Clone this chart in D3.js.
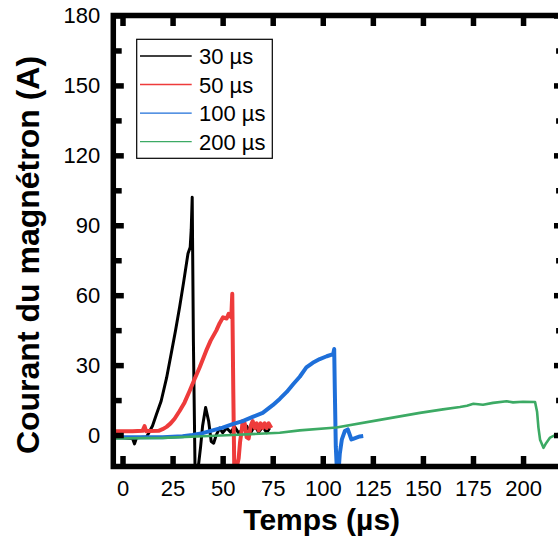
<!DOCTYPE html>
<html>
<head>
<meta charset="utf-8">
<script src="https://cdn.jsdelivr.net/npm/d3@7"></script>
<style>
html,body{margin:0;padding:0;background:#fff;overflow:hidden;}
svg{display:block;font-family:"Liberation Sans",Arial,sans-serif;}
</style>
</head>
<body>
<svg id="chart" width="558" height="538"></svg>
<script>
// ---- data ----
const seriesNames = ["30 µs", "50 µs", "100 µs", "200 µs"];
const seriesColors = ["#000000", "#EE3B3B", "#1E6FD9", "#3CAA64"];

const t30 = [-4.6, 0, 5, 6, 7, 12, 13.5, 15, 17, 19.3, 22, 24.3, 26.5, 28.5, 30.5, 32.7, 33.8, 34.3, 34.8, 35.4, 36.2, 37, 38, 39, 40, 41.5, 43, 44.3, 45.5, 46.8, 48.5, 50, 52, 54, 56, 58, 60, 62, 64, 66, 68, 70, 72, 73.5];
const v30 = [-1.2, -1.2, -1.5, -3.8, -1.2, -0.8, 1.5, 4, 9, 14.6, 24.5, 34.9, 45, 54.8, 65.5, 77.9, 80.6, 88, 102, 40, -13.5, -13.5, -12.5, -5, 4, 11.8, 6, -2.8, -3.5, 0, 3, 1, 3, 1.2, 3.5, 0.8, 2.6, 3.8, 1, 4, 1.2, 3.6, 1, 3];

const t50 = [-4.6, 5, 10, 11, 11.8, 13, 18, 20, 22, 24, 26, 28.5, 31, 33.5, 36, 38.5, 41.8, 44, 46.8, 48.5, 50.2, 52, 53, 54.3, 54.8, 55.3, 55.8, 57, 58, 58.7, 59.5, 60, 61, 62, 63, 64, 65, 66, 67, 68, 69, 70, 71, 72, 73, 74.3];
const v50 = [1.6, 1.6, 1.8, 3.8, 1.6, 1.7, 1.8, 2.5, 3.5, 5, 7, 10.3, 14, 18.9, 24, 29, 36.2, 40.5, 44.8, 48, 50.5, 50, 52, 50.5, 60.6, 20, -14, -14, -10, -3, 2, 6, 5, -1, -1.5, 4, 6, 3, 5, 2, 5, 3, 5, 3, 5, 3];

const t100 = [-4.6, 10, 20, 30, 35, 40, 45, 50, 55, 60, 65, 70, 75, 78.5, 82, 85.2, 88.5, 91.8, 95, 98.5, 102, 105.2, 105.7, 106, 106.5, 107, 108, 108.5, 109.5, 111, 112.5, 114.3, 115.5, 116.8, 118.5, 120.2];
const v100 = [-1, -1, -1, -0.5, 0, 0.8, 2, 3.2, 4.7, 6, 7.8, 9.5, 12.8, 15.5, 18.5, 21.8, 25, 29, 31, 32.6, 33.8, 34.7, 36.9, 20, -5, -14, -14, -8, -2, 1.7, 2.4, -1.9, -1.5, -1.1, -0.6, -0.4];

const t200 = [-4.6, 20, 40, 55, 78.5, 88.5, 106.8, 128.5, 148.5, 160, 168.5, 172, 175.2, 180, 185, 191.8, 195, 200, 206, 207, 207.7, 208.5, 210.2, 211.5, 213.5, 216, 217.5, 220.7];
const v200 = [-1.5, -1.2, -0.5, 0, 1, 2, 3.2, 6.5, 9.5, 11, 12, 12.6, 13.4, 13, 13.8, 14.5, 14, 14.3, 14.2, 10, 3.1, -2, -5.5, -3.5, -1.1, 0, 0.4, 0.3];

const xTicks = [0, 25, 50, 75, 100, 125, 150, 175, 200];
const yTicks = [0, 30, 60, 90, 120, 150, 180];
const yMinorTicks = [15, 45, 75, 105, 135, 165];

const xTitle = "Temps (µs)";
const yTitle = "Courant du magnétron (A)";

// ---- drawing ----
const svg = d3.select("#chart");
const pL = 113.3, pR = 564.5, pT = 15.5, pB = 466.5;
const x = d3.scaleLinear().domain([-4.6, 220.7]).range([pL, pR]);
const y = d3.scaleLinear().domain([-13.5, 180]).range([pB, pT]);

const series = [
  {t: t30, v: v30, w: 3},
  {t: t50, v: v50, w: 4},
  {t: t100, v: v100, w: 4},
  {t: t200, v: v200, w: 2.6}
];

svg.append("defs").append("clipPath").attr("id", "clip")
  .append("rect").attr("x", pL).attr("y", pT).attr("width", pR - pL).attr("height", pB - pT);

const line = d3.line().x(d => x(d[0])).y(d => y(d[1]));
const plot = svg.append("g").attr("clip-path", "url(#clip)");
series.forEach((s, i) => {
  const pts = s.t.map((tt, k) => [tt, s.v[k]]);
  plot.append("path").datum(pts)
    .attr("d", line)
    .attr("fill", "none")
    .attr("stroke", seriesColors[i])
    .attr("stroke-width", s.w)
    .attr("stroke-linejoin", "round");
});

// axes (frame)
const sw = 5.5;
const tickW = 5.5;
const majLen = 10.5, minLen = 8.4;

const axB = svg.append("g").attr("transform", `translate(0,${pB})`)
  .call(d3.axisBottom(x).tickValues(xTicks).tickSize(-majLen).tickSizeOuter(0).tickPadding(14).tickFormat(d3.format("d")));
const axT = svg.append("g").attr("transform", `translate(0,${pT})`)
  .call(d3.axisTop(x).tickValues(xTicks).tickSize(-majLen).tickSizeOuter(0).tickFormat(""));
const axL = svg.append("g").attr("transform", `translate(${pL},0)`)
  .call(d3.axisLeft(y).tickValues(yTicks).tickSize(-majLen).tickSizeOuter(0).tickPadding(13).tickFormat(d3.format("d")));
const axLm = svg.append("g").attr("transform", `translate(${pL},0)`)
  .call(d3.axisLeft(y).tickValues(yMinorTicks).tickSize(-minLen).tickSizeOuter(0).tickFormat(""));
const axR = svg.append("g").attr("transform", `translate(${pR},0)`)
  .call(d3.axisRight(y).tickValues(yTicks).tickSize(-majLen).tickSizeOuter(0).tickFormat(""));
const axRm = svg.append("g").attr("transform", `translate(${pR},0)`)
  .call(d3.axisRight(y).tickValues(yMinorTicks).tickSize(-minLen).tickSizeOuter(0).tickFormat(""));

[axB, axT, axL, axLm, axR, axRm].forEach(a => {
  a.select(".domain").remove();
  a.selectAll(".tick line").attr("stroke", "#000").attr("stroke-width", tickW);
  a.selectAll(".tick text").attr("fill", "#000").attr("font-size", 22)
    .attr("font-family", "'Liberation Sans', Arial, sans-serif");
});

// frame lines
svg.append("rect")
  .attr("x", pL).attr("y", pT)
  .attr("width", pR - pL).attr("height", pB - pT)
  .attr("fill", "none").attr("stroke", "#000").attr("stroke-width", sw);

// titles
svg.append("text")
  .attr("x", 321.7).attr("y", 530)
  .attr("text-anchor", "middle")
  .attr("font-size", 30).attr("font-weight", "bold")
  .text(xTitle);
svg.append("text")
  .attr("transform", "translate(38.5,255) rotate(-90)")
  .attr("text-anchor", "middle")
  .attr("font-size", 32).attr("font-weight", "bold")
  .text(yTitle);

// legend
const lg = svg.append("g");
lg.append("rect").attr("x", 136.7).attr("y", 39.3).attr("width", 135.6).attr("height", 119)
  .attr("fill", "#fff").attr("stroke", "#000").attr("stroke-width", 1.2);
const rowY = [56, 84.5, 113.2, 141.7];
seriesNames.forEach((n, i) => {
  lg.append("line").attr("x1", 140).attr("x2", 191.7).attr("y1", rowY[i]).attr("y2", rowY[i])
    .attr("stroke", seriesColors[i]).attr("stroke-width", 1.3);
  lg.append("text").attr("x", 199).attr("y", rowY[i] + 8.2)
    .attr("font-size", 22).attr("fill", "#000").text(n);
});
</script>
</body>
</html>
